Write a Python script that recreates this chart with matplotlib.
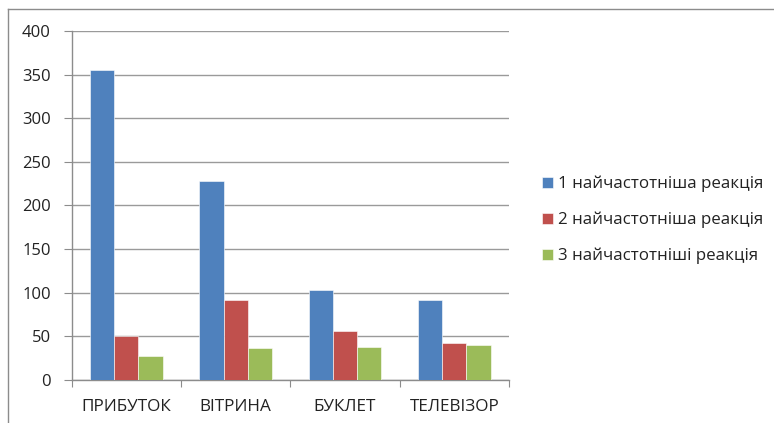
import matplotlib.pyplot as plt
from matplotlib.lines import Line2D
import numpy as np

categories = ['ПРИБУТОК', 'ВІТРИНА', 'БУКЛЕТ', 'ТЕЛЕВІЗОР']
series_names = ['1 найчастотніша реакція', '2 найчастотніша реакція', '3 найчастотніші реакція']
s1 = [355, 228, 103, 92]
s2 = [50, 92, 56, 42]
s3 = [27, 37, 38, 40]
colors = ['#4F81BD', '#C0504D', '#9BBB59']

main_font = 'Open Sans'

fig = plt.figure(figsize=(7.74, 4.23), dpi=100)
ax = fig.add_axes([0.0926, 0.1017, 0.565, 0.825])

x = np.arange(len(categories))
w = 0.2215
for i, vals in enumerate([s1, s2, s3]):
    ax.bar(x + (i - 1) * w, vals, w, color=colors[i], label=series_names[i],
           edgecolor='white', linewidth=0.4, zorder=3)

ax.set_xlim(-0.5, 3.5)
ax.set_ylim(0, 400)
ax.set_yticks(np.arange(0, 401, 50))
ax.yaxis.grid(True, color='#9a9a9a', linewidth=1.0, zorder=0)
ax.set_axisbelow(True)

ax.set_xticks(np.arange(-0.5, 3.6, 1))
ax.set_xticklabels([])
ax.set_xticks(x, minor=True)
ax.set_xticklabels(categories, minor=True, fontsize=12.3, family=main_font, color='#222222')
ax.tick_params(axis='x', which='minor', length=0, pad=14)
ax.tick_params(axis='x', which='major', length=5, color='#8c8c8c', direction='out')
ax.tick_params(axis='y', length=6, color='#8c8c8c', direction='out', pad=9)
for lab in ax.get_yticklabels():
    lab.set_family(main_font)
    lab.set_fontsize(12)
    lab.set_color('#222222')

for s in ['top', 'right']:
    ax.spines[s].set_visible(False)
for s in ['left', 'bottom']:
    ax.spines[s].set_color('#8c8c8c')
    ax.spines[s].set_linewidth(1.0)

leg = fig.legend(loc='center left', bbox_to_anchor=(0.681, 0.48), frameon=False,
                 prop={'family': main_font, 'size': 12.2}, handlelength=0.6,
                 handleheight=0.6, handletextpad=0.3, labelspacing=1.15)
for t in leg.get_texts():
    t.set_color('#222222')

# outer chart border
fig.add_artist(Line2D([8 / 774, 8 / 774], [0, 1 - 9 / 423], color='#8c8c8c', lw=1.0))
fig.add_artist(Line2D([8 / 774, 1], [1 - 9 / 423, 1 - 9 / 423], color='#8c8c8c', lw=1.0))

plt.savefig('out.png', dpi=100)
